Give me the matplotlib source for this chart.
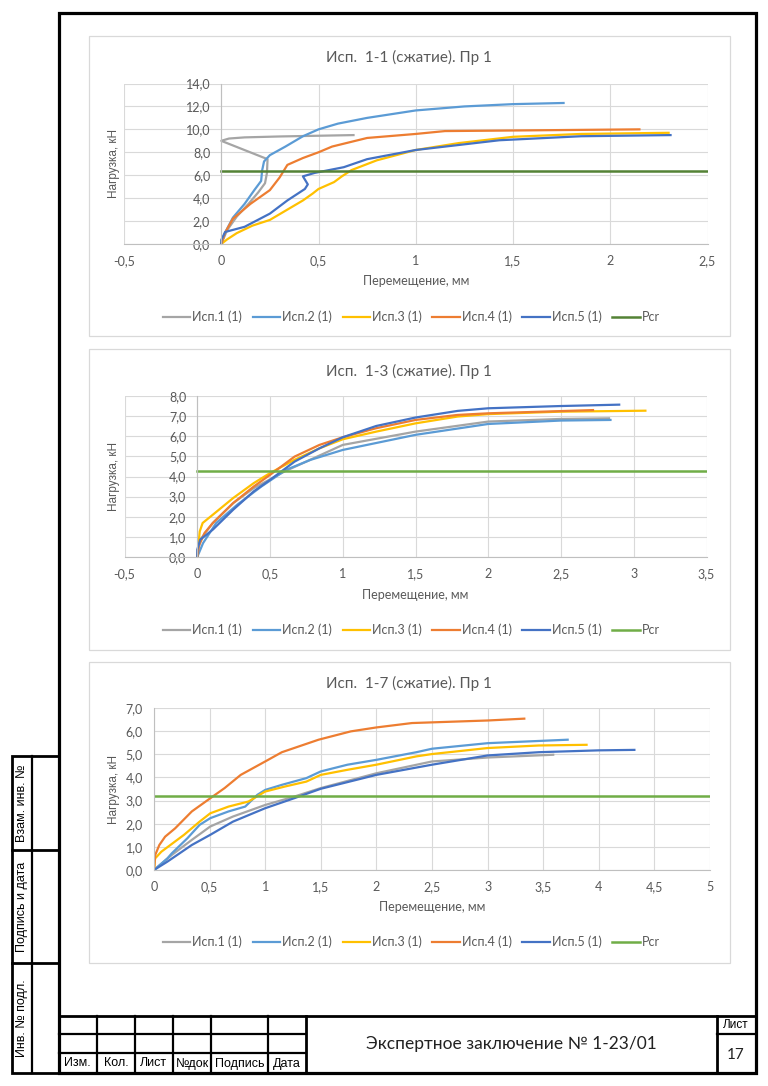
import matplotlib
matplotlib.use("Agg")
import matplotlib.pyplot as plt
from matplotlib.patches import Rectangle
from matplotlib.ticker import FuncFormatter

W, H = 768, 1086
FONT = ["Lato", "DejaVu Sans"]
ARIAL = ["Liberation Sans", "DejaVu Sans"]
TXT = "#595959"

SERIES = ["Исп.1 (1)", "Исп.2 (1)", "Исп.3 (1)", "Исп.4 (1)", "Исп.5 (1)", "Pcr"]
COLORS = ["#A5A5A5", "#5B9BD5", "#FFC000", "#ED7D31", "#4472C4"]

# --- Исп. 1-1 ---
c1_x1 = [0, 0.03, 0.08, 0.14, 0.19, 0.225, 0.235, 0.238, 0.0, 0.04, 0.12, 0.3, 0.68]
c1_y1 = [0, 1.2, 2.4, 3.5, 4.5, 5.3, 6.2, 7.4, 9.0, 9.2, 9.3, 9.38, 9.5]
c1_x2 = [0, 0.02, 0.06, 0.12, 0.17, 0.205, 0.21, 0.22, 0.25, 0.33, 0.42, 0.5, 0.6, 0.75, 1.0, 1.25, 1.5, 1.76]
c1_y2 = [0, 1.0, 2.3, 3.5, 4.7, 5.5, 6.4, 7.2, 7.75, 8.5, 9.4, 10.0, 10.5, 11.0, 11.65, 12.0, 12.2, 12.3]
c1_x3 = [0, 0.03, 0.08, 0.16, 0.25, 0.33, 0.42, 0.47, 0.5, 0.58, 0.62, 0.67, 0.8, 1.0, 1.22, 1.5, 1.85, 2.3]
c1_y3 = [0, 0.4, 0.95, 1.6, 2.1, 2.9, 3.8, 4.4, 4.8, 5.4, 5.9, 6.45, 7.3, 8.2, 8.8, 9.35, 9.6, 9.7]
c1_x4 = [0, 0.02, 0.06, 0.15, 0.25, 0.3, 0.34, 0.42, 0.5, 0.57, 0.75, 1.0, 1.15, 1.5, 2.15]
c1_y4 = [0, 1.0, 2.2, 3.5, 4.7, 5.8, 6.9, 7.5, 8.0, 8.5, 9.25, 9.6, 9.85, 9.9, 10.0]
c1_x5 = [0, 0.0, 0.02, 0.12, 0.25, 0.34, 0.43, 0.445, 0.42, 0.48, 0.63, 0.75, 1.0, 1.43, 1.85, 2.31]
c1_y5 = [0, 0.35, 1.05, 1.5, 2.65, 3.8, 4.8, 5.2, 5.9, 6.2, 6.7, 7.4, 8.2, 9.05, 9.4, 9.5]
c1_pcr = 6.4

# --- Исп. 1-3 ---
c2_x1 = [0, 0.02, 0.107, 0.247, 0.388, 0.6, 1.0, 1.5, 2.0, 2.5, 2.83]
c2_y1 = [0, 0.86, 1.69, 2.68, 3.42, 4.25, 5.57, 6.23, 6.73, 6.86, 6.89]
c2_x2 = [0, 0.04, 0.13, 0.275, 0.44, 0.61, 0.78, 1.0, 1.5, 2.0, 2.5, 2.84]
c2_y2 = [0, 0.69, 1.69, 2.6, 3.5, 4.33, 4.83, 5.32, 6.07, 6.61, 6.78, 6.81]
c2_x3 = [0, 0.017, 0.037, 0.107, 0.247, 0.388, 0.5, 0.669, 0.84, 1.0, 1.23, 1.5, 1.79, 2.0, 2.49, 3.08]
c2_y3 = [0, 1.27, 1.69, 2.1, 2.93, 3.67, 4.17, 4.83, 5.4, 5.85, 6.23, 6.64, 6.98, 7.1, 7.22, 7.27]
c2_x4 = [0, 0.01, 0.05, 0.107, 0.247, 0.388, 0.5, 0.669, 0.84, 1.0, 1.23, 1.5, 1.79, 2.0, 2.72]
c2_y4 = [0, 0.53, 1.19, 1.69, 2.68, 3.5, 4.08, 4.99, 5.57, 5.95, 6.4, 6.81, 7.06, 7.14, 7.3]
c2_x5 = [0, 0, 0.02, 0.107, 0.247, 0.388, 0.5, 0.669, 0.84, 1.0, 1.23, 1.5, 1.79, 2.0, 2.49, 2.9]
c2_y5 = [0, 0.36, 0.86, 1.36, 2.35, 3.26, 3.83, 4.74, 5.4, 5.95, 6.51, 6.93, 7.26, 7.39, 7.5, 7.57]
c2_pcr = 4.25

# --- Исп. 1-7 ---
c3_x1 = [0, 0.16, 0.34, 0.506, 0.71, 1.0, 1.26, 1.5, 2.0, 2.5, 3.0, 3.59]
c3_y1 = [0, 0.65, 1.3, 1.88, 2.31, 2.81, 3.17, 3.54, 4.18, 4.69, 4.86, 4.98]
c3_x2 = [0, 0.12, 0.16, 0.3, 0.41, 0.506, 0.67, 0.82, 0.93, 1.0, 1.15, 1.37, 1.5, 1.74, 2.0, 2.36, 2.5, 3.0, 3.72]
c3_y2 = [0, 0.5, 0.72, 1.37, 1.95, 2.24, 2.53, 2.74, 3.25, 3.46, 3.68, 3.97, 4.26, 4.55, 4.76, 5.09, 5.24, 5.48, 5.63]
c3_x3 = [0, 0.01, 0.066, 0.27, 0.41, 0.506, 0.67, 0.85, 1.0, 1.18, 1.37, 1.5, 1.74, 2.0, 2.36, 2.5, 3.0, 3.46, 3.89]
c3_y3 = [0, 0.5, 0.79, 1.52, 2.09, 2.45, 2.74, 2.96, 3.39, 3.61, 3.82, 4.11, 4.33, 4.55, 4.91, 5.01, 5.27, 5.38, 5.41]
c3_x4 = [0, 0.011, 0.048, 0.1, 0.19, 0.34, 0.506, 0.635, 0.78, 1.0, 1.15, 1.48, 1.77, 2.0, 2.32, 3.0, 3.33]
c3_y4 = [0, 0.65, 1.08, 1.44, 1.8, 2.53, 3.1, 3.54, 4.11, 4.69, 5.09, 5.63, 5.99, 6.16, 6.35, 6.46, 6.54]
c3_x5 = [0, 0.12, 0.34, 0.506, 0.71, 1.0, 1.26, 1.5, 2.0, 2.5, 3.0, 3.46, 4.0, 4.32]
c3_y5 = [0, 0.36, 1.08, 1.52, 2.09, 2.67, 3.1, 3.51, 4.11, 4.55, 4.95, 5.09, 5.17, 5.19]
c3_pcr = 3.2

CHARTS = [
    {"title": "Исп.  1-1 (сжатие). Пр 1", "xlim": (-0.5, 2.5), "ylim": (0, 14), "ystep": 2,
     "xs": [c1_x1, c1_x2, c1_x3, c1_x4, c1_x5], "ys": [c1_y1, c1_y2, c1_y3, c1_y4, c1_y5],
     "pcr": c1_pcr, "pcr_color": "#548235",
     "box": (88.5, 36, 730, 336), "axes": (124, 83.5, 707.5, 244),
     "title_y": 57, "xlabel_y": 281, "legend_y": 317},
    {"title": "Исп.  1-3 (сжатие). Пр 1", "xlim": (-0.5, 3.5), "ylim": (0, 8), "ystep": 1,
     "xs": [c2_x1, c2_x2, c2_x3, c2_x4, c2_x5], "ys": [c2_y1, c2_y2, c2_y3, c2_y4, c2_y5],
     "pcr": c2_pcr, "pcr_color": "#70AD47",
     "box": (88.5, 349, 730, 650), "axes": (124.5, 396, 706.5, 557),
     "title_y": 371, "xlabel_y": 595, "legend_y": 630},
    {"title": "Исп.  1-7 (сжатие). Пр 1", "xlim": (0, 5), "ylim": (0, 7), "ystep": 1,
     "xs": [c3_x1, c3_x2, c3_x3, c3_x4, c3_x5], "ys": [c3_y1, c3_y2, c3_y3, c3_y4, c3_y5],
     "pcr": c3_pcr, "pcr_color": "#70AD47",
     "box": (88.5, 662, 730, 963), "axes": (154, 708, 710, 870),
     "title_y": 683, "xlabel_y": 907, "legend_y": 942},
]


def rect(l, t, r, b):
    return [l / W, 1 - b / H, (r - l) / W, (b - t) / H]


def xfmt(v, _):
    s = f"{v:g}"
    return s.replace(".", ",")


fig = plt.figure(figsize=(W / 100, H / 100), dpi=100)

# page overlay in pixel coordinates
pg = fig.add_axes([0, 0, 1, 1], zorder=-1)
pg.set_xlim(0, W)
pg.set_ylim(H, 0)
pg.axis("off")

for ch in CHARTS:
    bl, bt, br, bb = ch["box"]
    pg.add_patch(Rectangle((bl, bt), br - bl, bb - bt, fill=False, ec="#D9D9D9", lw=0.9))
    al, at, ar, ab = ch["axes"]
    ax = fig.add_axes(rect(al, at, ar, ab))
    ax.set_facecolor("none")
    x0, x1 = ch["xlim"]
    ax.set_xlim(x0, x1)
    ax.set_ylim(*ch["ylim"])
    ax.set_xticks([x0 + 0.5 * i for i in range(int(round((x1 - x0) / 0.5)) + 1)])
    ax.set_yticks(list(range(0, ch["ylim"][1] + 1, ch["ystep"])))
    ax.xaxis.set_major_formatter(FuncFormatter(xfmt))
    ax.yaxis.set_major_formatter(FuncFormatter(lambda v, _: f"{v:.1f}".replace(".", ",")))
    ax.grid(True, color="#D9D9D9", lw=0.8)
    ax.set_axisbelow(True)
    for s in ("top", "right"):
        ax.spines[s].set_visible(False)
    ax.spines["left"].set_position(("data", 0))
    ax.spines["left"].set_color("#BFBFBF")
    ax.spines["bottom"].set_color("#BFBFBF")
    ax.spines["left"].set_linewidth(0.8)
    ax.spines["bottom"].set_linewidth(0.8)
    ax.tick_params(length=0, pad=8, labelcolor=TXT, labelsize=9)
    for lab in ax.get_xticklabels() + ax.get_yticklabels():
        lab.set_family(FONT)

    lines = []
    for x, y, c, name in zip(ch["xs"], ch["ys"], COLORS, SERIES):
        ln, = ax.plot(x, y, color=c, lw=1.6, solid_joinstyle="round", label=name)
        lines.append(ln)
    ln, = ax.plot([0, x1], [ch["pcr"], ch["pcr"]], color=ch["pcr_color"], lw=1.8, label="Pcr")
    lines.append(ln)

    pg.text((bl + br) / 2, ch["title_y"], ch["title"], ha="center", va="center",
            fontsize=11, color=TXT, family=FONT)
    pg.text((al + ar) / 2, ch["xlabel_y"], "Перемещение, мм", ha="center", va="center",
            fontsize=9, color=TXT, family=FONT)
    pg.text(114.5, (at + ab) / 2, "Нагрузка, кН", ha="center", va="center", rotation=90,
            fontsize=8.5, color=TXT, family=ARIAL)
    fig.legend(handles=lines, labels=SERIES, loc="center", ncol=6, frameon=False,
               bbox_to_anchor=(((bl + br) / 2 + 2) / W, 1 - ch["legend_y"] / H),
               prop={"family": FONT, "size": 9}, labelcolor=TXT,
               handlelength=2.2, handletextpad=0.15, columnspacing=0.85)

# frame
K = "black"
pg.add_patch(Rectangle((58.5, 12.5), 755.5 - 58.5, 1073 - 12.5, fill=False, ec=K, lw=2.3))

# title block
pg.plot([58.5, 755.5], [1015.5, 1015.5], color=K, lw=2.0)
for y in (1034, 1052.5):
    pg.plot([58.5, 306], [y, y], color=K, lw=1.6)
pg.plot([717, 755.5], [1034, 1034], color=K, lw=1.6)
for x in (97, 135, 173, 211, 268):
    pg.plot([x, x], [1015.5, 1073], color=K, lw=1.6)
for x in (306, 717):
    pg.plot([x, x], [1015.5, 1073], color=K, lw=2.0)
cells = [(58.5, 97, "Изм."), (97, 135, "Кол."), (135, 173, "Лист"), (173, 211, "№док"),
         (211, 268, "Подпись"), (268, 306, "Дата")]
for l, r, t in cells:
    pg.text((l + r) / 2, 1063.5, t, ha="center", va="center", fontsize=9, family=ARIAL)
pg.text(511.5, 1044, "Экспертное заключение № 1-23/01", ha="center", va="center",
        fontsize=12.5, color="#222222", family=FONT)
pg.text(736, 1025, "Лист", ha="center", va="center", fontsize=8.5, family=ARIAL)
pg.text(736, 1055, "17", ha="center", va="center", fontsize=11, color="#222222", family=FONT)

# side stamp
pg.add_patch(Rectangle((12, 756), 58.5 - 12, 1073 - 756, fill=False, ec=K, lw=2.0))
pg.plot([32, 32], [756, 1073], color=K, lw=1.6)
for y in (850, 963):
    pg.plot([12, 58.5], [y, y], color=K, lw=2.0)
for yc, t in ((803, "Взам. инв. №"), (906.5, "Подпись и дата"), (1018, "Инв. № подл.")):
    pg.text(22, yc, t, ha="center", va="center", rotation=90, fontsize=9, family=ARIAL)

fig.savefig("out.png", dpi=100)
